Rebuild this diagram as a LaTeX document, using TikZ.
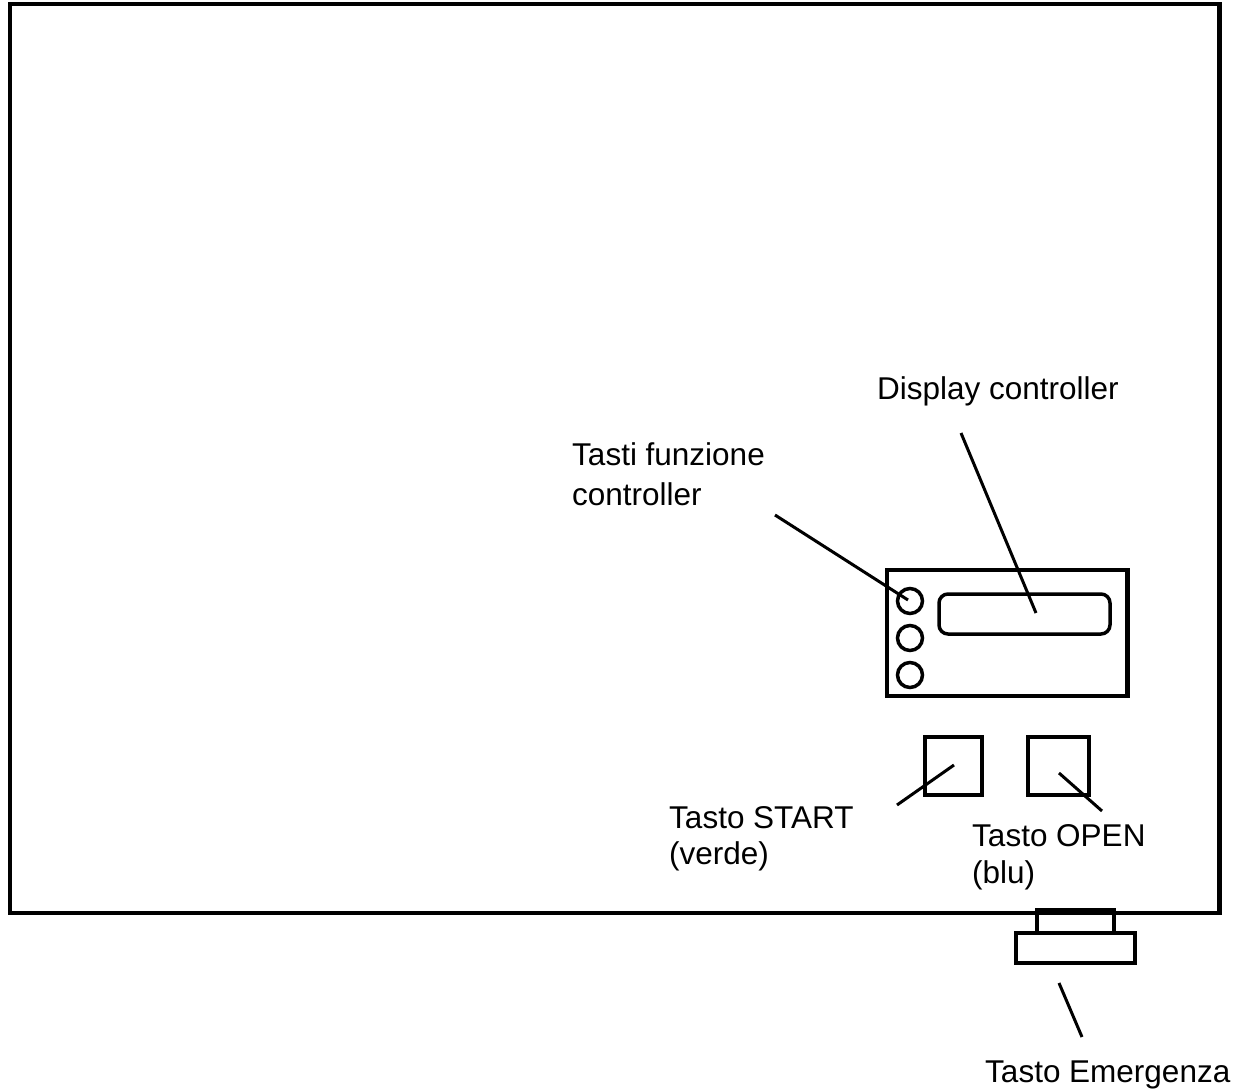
\documentclass[tikz,border=0pt]{standalone}
\usepackage{fontspec}
\setmainfont{Liberation Sans}
\begin{document}
\begin{tikzpicture}[x=1pt,y=-1pt,
  thickline/.style={line width=4.5pt},
  medline/.style={line width=3.5pt},
  pointer/.style={line width=3pt},
  lbl/.style={inner sep=0pt,anchor=base west,align=left,
    font=\fontsize{31.5}{37}\selectfont}]
\useasboundingbox (0,0) rectangle (1242,1091);
% outer frame
\draw[thickline] (10,4) rectangle (1219.5,913);
% controller panel
\node[draw,thickline,minimum width=240.5pt,minimum height=126pt,inner sep=0pt] (panel) at (1007.25,633) {};
\node[draw,medline,circle,minimum size=25pt,inner sep=0pt] (k1) at (910,601) {};
\node[draw,medline,circle,minimum size=25pt,inner sep=0pt] (k2) at (910,638) {};
\node[draw,medline,circle,minimum size=25pt,inner sep=0pt] (k3) at (910,675) {};
\node[draw,medline,rounded corners=9pt,minimum width=171pt,minimum height=40pt,inner sep=0pt] (disp) at (1024.5,614) {};
% buttons
\node[draw,thickline,minimum width=57pt,minimum height=58pt,inner sep=0pt] (start) at (953.5,766) {};
\node[draw,thickline,minimum width=61pt,minimum height=58pt,inner sep=0pt] (open) at (1058.5,766) {};
% emergency button
\node[draw,thickline,minimum width=77pt,minimum height=22.5pt,inner sep=0pt] (emtop) at (1075.5,921.75) {};
\node[draw,thickline,minimum width=119pt,minimum height=30pt,inner sep=0pt] (embot) at (1075.25,948) {};
% labels (anchor at baseline of last line)
\node[lbl] (ldisp) at (877,399) {Display controller};
\node[lbl,font=\fontsize{31.5}{40}\selectfont] (ltasti) at (572,505) {Tasti funzione\\controller};
\node[lbl,font=\fontsize{31.5}{36}\selectfont] (lstart) at (669,864) {Tasto START\\(verde)};
\node[lbl,font=\fontsize{31.5}{37}\selectfont] (lopen) at (972,883) {Tasto OPEN\\(blu)};
\node[lbl] (lem) at (985,1082) {Tasto Emergenza};
% pointer lines
\coordinate (pd1) at (961,433);
\coordinate (pd2) at (1036,613);
\coordinate (pt1) at (775,515);
\coordinate (pt2) at (908,600);
\coordinate (ps1) at (897,805);
\coordinate (ps2) at (954,765);
\coordinate (po1) at (1059,773);
\coordinate (po2) at (1102,811);
\coordinate (pe1) at (1059,983);
\coordinate (pe2) at (1082,1037);
\draw[pointer] (pd1) -- (pd2);
\draw[pointer] (pt1) -- (pt2);
\draw[pointer] (ps1) -- (ps2);
\draw[pointer] (po1) -- (po2);
\draw[pointer] (pe1) -- (pe2);
\end{tikzpicture}
\end{document}
